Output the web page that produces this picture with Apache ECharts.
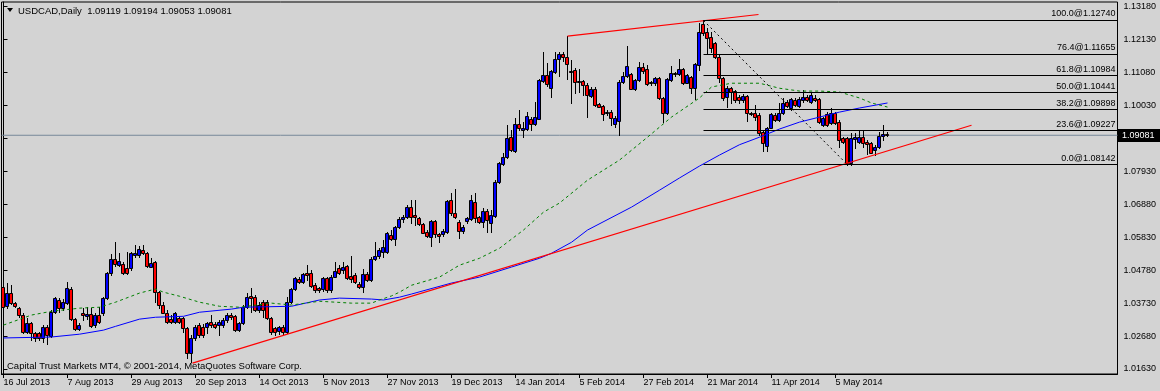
<!DOCTYPE html>
<html><head><meta charset="utf-8">
<script src="https://cdn.jsdelivr.net/npm/echarts@6/dist/echarts.min.js"></script>
<style>html,body{margin:0;padding:0;background:#d3d3d3;}#c{width:1160px;height:391px;}</style>
</head><body><div id="c"></div>
<script>
// ---------- DATA ----------
const openP = [1.0424,1.0364,1.0405,1.0373,1.0357,1.0335,1.0281,1.0309,1.0277,1.0277,
1.0261,1.0296,1.0268,1.0344,1.0383,1.0357,1.0373,1.0418,1.0322,1.0290,
1.0341,1.0332,1.0338,1.0303,1.0335,1.0341,1.0389,1.0469,1.0513,1.0494,
1.0497,1.0485,1.0485,1.0526,1.0526,1.0542,1.0532,1.0488,1.0504,1.0408,
1.0367,1.0341,1.0322,1.0313,1.0325,1.0325,1.0293,1.0214,1.0261,1.0303,
1.0296,1.0296,1.0313,1.0306,1.0303,1.0303,1.0319,1.0335,1.0332,1.0287,
1.0309,1.0360,1.0395,1.0392,1.0351,1.0376,1.0376,1.0325,1.0293,1.0284,
1.0296,1.0281,1.0376,1.0418,1.0449,1.0440,1.0469,1.0469,1.0430,1.0421,
1.0418,1.0453,1.0414,1.0456,1.0485,1.0478,1.0491,1.0459,1.0462,1.0433,
1.0424,1.0465,1.0446,1.0513,1.0523,1.0536,1.0536,1.0590,1.0577,1.0615,
1.0641,1.0647,1.0679,1.0654,1.0644,1.0625,1.0599,1.0583,1.0634,1.0593,
1.0593,1.0599,1.0701,1.0660,1.0631,1.0603,1.0634,1.0641,1.0695,1.0647,
1.0631,1.0666,1.0628,1.0650,1.0759,1.0816,1.0838,1.0902,1.0858,1.0944,
1.0925,1.0928,1.0960,1.0944,1.0960,1.1081,1.1100,1.1058,1.1109,1.1151,
1.1167,1.1157,1.1113,1.1116,1.1081,1.1081,1.1068,1.1033,1.1055,1.1007,
1.1001,1.0979,1.0982,1.0944,1.0955,1.1078,1.1097,1.1103,1.1055,1.1084,
1.1125,1.1119,1.1078,1.1075,1.1090,1.1027,1.0979,1.1084,1.1106,1.1103,
1.1119,1.1075,1.1094,1.1058,1.1132,1.1263,1.1237,1.1221,1.1202,1.1157,
1.1090,1.1030,1.1058,1.1049,1.1030,1.1020,1.1033,1.0979,1.0979,1.0972,
1.0918,1.0874,1.0931,1.0972,1.0956,1.0979,1.1014,1.0995,1.1020,1.1001,
1.1020,1.1030,1.1014,1.1027,1.1023,1.0941,1.0976,1.0947,1.0979,1.0950,
1.0899,1.0899,1.0819,1.0896,1.0886,1.0902,1.0886,1.0883,1.0861,1.0870,
1.0905,1.09119];
const highP = [1.0440,1.0437,1.0430,1.0376,1.0360,1.0341,1.0325,1.0313,1.0281,1.0281,
1.0303,1.0303,1.0351,1.0392,1.0389,1.0386,1.0440,1.0424,1.0325,1.0309,
1.0357,1.0360,1.0357,1.0341,1.0360,1.0392,1.0472,1.0529,1.0567,1.0532,
1.0504,1.0536,1.0536,1.0558,1.0555,1.0558,1.0536,1.0516,1.0507,1.0411,
1.0376,1.0351,1.0335,1.0344,1.0332,1.0329,1.0296,1.0271,1.0303,1.0309,
1.0306,1.0313,1.0335,1.0313,1.0319,1.0325,1.0341,1.0341,1.0335,1.0313,
1.0367,1.0405,1.0421,1.0399,1.0376,1.0383,1.0383,1.0329,1.0296,1.0300,
1.0303,1.0392,1.0421,1.0456,1.0456,1.0469,1.0494,1.0478,1.0437,1.0424,
1.0456,1.0456,1.0462,1.0504,1.0494,1.0504,1.0494,1.0523,1.0469,1.0440,
1.0481,1.0472,1.0520,1.0567,1.0548,1.0574,1.0599,1.0606,1.0618,1.0647,
1.0654,1.0685,1.0701,1.0701,1.0647,1.0628,1.0606,1.0638,1.0638,1.0596,
1.0609,1.0701,1.0724,1.0736,1.0638,1.0622,1.0647,1.0717,1.0724,1.0650,
1.0676,1.0673,1.0669,1.0765,1.0823,1.0851,1.0941,1.0925,1.0963,1.0988,
1.0950,1.0982,1.0966,1.1014,1.1087,1.1173,1.1138,1.1116,1.1173,1.1173,
1.1173,1.1224,1.1148,1.1122,1.1119,1.1084,1.1074,1.1062,1.1062,1.1011,
1.1004,1.0988,1.0988,1.0969,1.1084,1.1109,1.1192,1.1106,1.1087,1.1141,
1.1138,1.1132,1.1081,1.1094,1.1094,1.1030,1.1090,1.1129,1.1109,1.1151,
1.1122,1.1103,1.1097,1.1138,1.1266,1.1274,1.1250,1.1237,1.1205,1.1164,
1.1094,1.1065,1.1062,1.1052,1.1036,1.1039,1.1036,1.0982,1.1004,1.0979,
1.0925,1.0934,1.0979,1.0979,1.1011,1.1027,1.1020,1.1027,1.1027,1.1030,
1.1052,1.1036,1.1043,1.1036,1.1027,1.0966,1.0982,1.0995,1.0982,1.0956,
1.0902,1.0902,1.0915,1.0915,1.0921,1.0921,1.0893,1.0886,1.0877,1.0918,
1.0941,1.09194];
const lowP = [1.0357,1.0357,1.0370,1.0360,1.0329,1.0278,1.0277,1.0255,1.0252,1.0255,
1.0249,1.0242,1.0265,1.0341,1.0344,1.0351,1.0370,1.0319,1.0287,1.0287,
1.0319,1.0322,1.0296,1.0296,1.0309,1.0335,1.0386,1.0462,1.0491,1.0491,
1.0467,1.0467,1.0478,1.0520,1.0520,1.0529,1.0488,1.0488,1.0376,1.0357,
1.0341,1.0309,1.0309,1.0309,1.0309,1.0281,1.0198,1.0185,1.0255,1.0265,
1.0265,1.0277,1.0296,1.0293,1.0271,1.0296,1.0313,1.0322,1.0284,1.0284,
1.0306,1.0357,1.0344,1.0348,1.0344,1.0329,1.0322,1.0274,1.0271,1.0274,
1.0274,1.0277,1.0373,1.0414,1.0437,1.0437,1.0446,1.0424,1.0408,1.0408,
1.0411,1.0408,1.0408,1.0456,1.0465,1.0469,1.0449,1.0440,1.0437,1.0421,
1.0408,1.0443,1.0443,1.0510,1.0516,1.0520,1.0532,1.0574,1.0558,1.0612,
1.0631,1.0644,1.0628,1.0622,1.0622,1.0596,1.0583,1.0555,1.0583,1.0568,
1.0587,1.0596,1.0654,1.0644,1.0580,1.0596,1.0628,1.0638,1.0631,1.0628,
1.0615,1.0599,1.0599,1.0647,1.0756,1.0813,1.0835,1.0858,1.0855,1.0925,
1.0902,1.0925,1.0925,1.0941,1.0960,1.1078,1.1065,1.1030,1.1106,1.1097,
1.1144,1.1087,1.1011,1.1043,1.1046,1.1036,1.0966,1.1030,1.1001,1.0998,
1.0956,1.0972,1.0941,1.0934,1.0909,1.1075,1.1094,1.1055,1.1052,1.1081,
1.1106,1.1068,1.1068,1.1068,1.1023,1.0950,1.0976,1.1081,1.1097,1.1100,
1.1071,1.1075,1.1043,1.1023,1.1116,1.1228,1.1170,1.1173,1.1154,1.1078,
1.1020,1.0998,1.1011,1.1014,1.1011,1.1014,1.0953,1.0972,1.0956,1.0909,
1.0858,1.0858,1.0931,1.0953,1.0953,1.0976,1.0998,1.0988,1.1001,1.0998,
1.1014,1.1017,1.1011,1.1017,1.0947,1.0937,1.0937,1.0944,1.0944,1.0870,
1.0883,1.0814,1.0814,1.0867,1.0883,1.0870,1.0848,1.0851,1.0845,1.0867,
1.0893,1.09053];
const closeP = [1.0360,1.0405,1.0373,1.0364,1.0335,1.0281,1.0309,1.0277,1.0261,1.0261,
1.0296,1.0271,1.0344,1.0389,1.0357,1.0376,1.0421,1.0322,1.0290,1.0303,
1.0335,1.0338,1.0300,1.0335,1.0313,1.0389,1.0469,1.0513,1.0497,1.0507,
1.0469,1.0469,1.0532,1.0532,1.0545,1.0532,1.0491,1.0501,1.0408,1.0367,
1.0341,1.0313,1.0313,1.0341,1.0313,1.0293,1.0214,1.0261,1.0296,1.0271,
1.0271,1.0309,1.0303,1.0296,1.0313,1.0319,1.0335,1.0329,1.0287,1.0309,
1.0360,1.0392,1.0389,1.0351,1.0367,1.0351,1.0325,1.0281,1.0281,1.0296,
1.0281,1.0376,1.0418,1.0453,1.0440,1.0465,1.0462,1.0427,1.0414,1.0414,
1.0453,1.0414,1.0456,1.0475,1.0469,1.0488,1.0453,1.0449,1.0440,1.0424,
1.0465,1.0446,1.0513,1.0523,1.0542,1.0552,1.0596,1.0577,1.0615,1.0641,
1.0647,1.0679,1.0647,1.0647,1.0625,1.0596,1.0587,1.0634,1.0593,1.0587,
1.0603,1.0698,1.0660,1.0647,1.0603,1.0615,1.0644,1.0701,1.0644,1.0631,
1.0666,1.0638,1.0654,1.0759,1.0819,1.0838,1.0899,1.0861,1.0944,1.0931,
1.0931,1.0969,1.0944,1.0966,1.1084,1.1100,1.1071,1.1113,1.1151,1.1167,
1.1157,1.1135,1.1109,1.1078,1.1078,1.1068,1.1036,1.1055,1.1004,1.0998,
1.0976,1.0982,1.0963,1.0963,1.1078,1.1097,1.1129,1.1055,1.1084,1.1125,
1.1113,1.1071,1.1075,1.1090,1.1027,1.0979,1.1087,1.1106,1.1103,1.1119,
1.1075,1.1100,1.1058,1.1135,1.1237,1.1234,1.1218,1.1186,1.1157,1.1090,
1.1027,1.1058,1.1046,1.1020,1.1020,1.1033,1.0979,1.0976,1.0966,1.0915,
1.0883,1.0931,1.0976,1.0956,1.0979,1.1011,1.1001,1.1023,1.1004,1.1023,
1.1030,1.1020,1.1036,1.1020,1.0950,1.0963,1.0941,1.0979,1.0947,1.0893,
1.0886,1.0819,1.0899,1.0902,1.0902,1.0883,1.0880,1.0851,1.0870,1.0905,
1.0912,1.09081];

const xTickLabels = ["16 Jul 2013","7 Aug 2013","29 Aug 2013","20 Sep 2013","14 Oct 2013","5 Nov 2013","27 Nov 2013","19 Dec 2013","14 Jan 2014","5 Feb 2014","27 Feb 2014","21 Mar 2014","11 Apr 2014","5 May 2014"];
const yTicks = [1.01630,1.02680,1.03730,1.04780,1.05830,1.06880,1.07930,1.08980,1.10030,1.11080,1.12130,1.13180];

// moving averages (bar index, price)
const blueMaX = [0,12,19,25,28,34,38,45,49,57,60,72,79,84,92,95,99,102,112,119,127,134,137,142,146,157,164,169,174,179,184,189,194,199,204,209,214,221];
const blueMaY = [1.0262,1.0265,1.0274,1.0287,1.0299,1.0322,1.0328,1.0331,1.0344,1.0354,1.0360,1.0363,1.0383,1.0389,1.0386,1.0383,1.0392,1.0402,1.0437,1.0456,1.0488,1.0516,1.0532,1.0567,1.0606,1.0679,1.0733,1.0772,1.0810,1.0845,1.0878,1.0902,1.0928,1.0950,1.0966,1.0982,1.0995,1.1011];
const greenMaX = [0,7,12,19,24,28,34,38,40,44,49,54,59,67,72,79,87,92,94,97,99,102,109,114,119,124,130,135,139,146,154,161,167,174,177,182,189,194,199,204,209,214,217,221];
const greenMaY = [1.0303,1.0335,1.0347,1.0357,1.0360,1.0376,1.0405,1.0418,1.0408,1.0395,1.0376,1.0363,1.0360,1.0373,1.0367,1.0379,1.0373,1.0373,1.0383,1.0396,1.0408,1.0430,1.0456,1.0494,1.0516,1.0548,1.0606,1.0663,1.0692,1.0765,1.0829,1.0902,1.0966,1.1027,1.1062,1.1074,1.1074,1.1058,1.1049,1.1049,1.1046,1.1027,1.1011,1.0998];

// drawn objects (bar index, price)
const trendLowX = [47.25, 242];
const trendLowY = [1.0182, 1.0940];
const trendHighX = [141, 188.75];
const trendHighY = [1.1224, 1.1293];
const fibLevels = [100.0, 76.4, 61.8, 50.0, 38.2, 23.6, 0.0];
const fibPrices = [1.12740, 1.11655, 1.10984, 1.10441, 1.09898, 1.09227, 1.08142];
const fibAnchorX = [175, 211];
const fibAnchorY = [1.12740, 1.08142];
const lastPrice = 1.09081;
const headerText = "USDCAD,Daily  1.09119 1.09194 1.09053 1.09081";
const footerText = "Capital Trust Markets MT4, \u00a9 2001-2014, MetaQuotes Software Corp.";
const SLOTS = 279;

// ---------- CHART ----------
const Y_MIN = 1.01471, Y_MAX = 1.13329;
const FONT = "'Liberation Sans',Arial,sans-serif";
const FS = 9;
const cats = Array.from({length: SLOTS}, (_, i) => String(i));
const showTick = (idx) => idx % 16 === 0 && idx / 16 < xTickLabels.length;
const candleRows = openP.map((o, i) => [i, o, closeP[i], lowP[i], highP[i]]);
const pairs = (xs, ys) => xs.map((x, i) => [x, ys[i]]);

function renderCandle(params, api) {
  const i = api.value(0), o = api.value(1), c = api.value(2), l = api.value(3), h = api.value(4);
  const pO = api.coord([i, o]), pC = api.coord([i, c]), pL = api.coord([i, l]), pH = api.coord([i, h]);
  const px = Math.floor(pO[0]);
  const top = Math.round(Math.min(pO[1], pC[1])), bot = Math.round(Math.max(pO[1], pC[1]));
  const fill = c > o ? '#0000ff' : (c < o ? '#ff0000' : '#000');
  return {type: 'group', children: [
    {type: 'line', shape: {x1: px + 0.5, y1: Math.round(pH[1]), x2: px + 0.5, y2: Math.round(pL[1]) + 1}, style: {stroke: '#000', lineWidth: 1}},
    {type: 'rect', shape: {x: px - 1.5, y: top + 0.5, width: 3, height: Math.max(bot - top, 0)}, style: {fill: fill, stroke: '#000', lineWidth: 1}}
  ]};
}

const chart = echarts.init(document.getElementById('c'));
const lineBase = {type: 'line', xAxisIndex: 1, yAxisIndex: 0, symbol: 'none', silent: true, animation: false};

chart.setOption({
  animation: false,
  backgroundColor: '#d3d3d3',
  grid: {left: 1.5, right: 42.5, top: 2, bottom: 17, show: true, borderColor: '#000', borderWidth: 1, backgroundColor: 'transparent'},
  xAxis: [
    {type: 'category', data: cats, boundaryGap: true,
     axisLine: {show: true, lineStyle: {color: '#000'}},
     axisTick: {show: true, alignWithLabel: true, interval: (i) => showTick(i), length: 4, lineStyle: {color: '#000'}},
     axisLabel: {show: true, interval: (i) => showTick(i), formatter: (v, i) => xTickLabels[i / 16] || '', align: 'left', margin: 4, color: '#000', fontFamily: FONT, fontSize: FS},
     splitLine: {show: false}},
    {type: 'value', min: -0.5, max: SLOTS - 0.5, show: false, splitLine: {show: false}}
  ],
  yAxis: {type: 'value', position: 'right', min: Y_MIN, max: Y_MAX, scale: true,
    axisLine: {show: true, lineStyle: {color: '#000'}},
    axisTick: {show: true, length: 4, customValues: yTicks, lineStyle: {color: '#000'}},
    axisLabel: {customValues: yTicks, formatter: (v) => v.toFixed(5), margin: 6, color: '#000', fontFamily: FONT, fontSize: FS},
    splitLine: {show: false}},
  series: [
    {type: 'custom', xAxisIndex: 0, yAxisIndex: 0, data: candleRows, renderItem: renderCandle, clip: true, silent: true,
     encode: {x: 0, y: [1, 2, 3, 4]}, z: 2},
    Object.assign({}, lineBase, {data: [[-0.5, lastPrice], [SLOTS - 0.5, lastPrice]], lineStyle: {color: '#778899', width: 1}, z: 1}),
    Object.assign({}, lineBase, {data: pairs(blueMaX, blueMaY), lineStyle: {color: '#0000ff', width: 1}, z: 3}),
    Object.assign({}, lineBase, {data: pairs(greenMaX, greenMaY), lineStyle: {color: '#008000', width: 1, type: [3, 3]}, z: 3}),
    Object.assign({}, lineBase, {data: pairs(trendLowX, trendLowY), lineStyle: {color: '#ff0000', width: 1.2}, z: 4}),
    Object.assign({}, lineBase, {data: pairs(trendHighX, trendHighY), lineStyle: {color: '#ff0000', width: 1.2}, z: 4}),
    Object.assign({}, lineBase, {data: pairs(fibAnchorX, fibAnchorY), lineStyle: {color: '#000', width: 1, type: [2, 3]}, z: 4,
      markLine: {silent: true, symbol: ['none', 'none'], animation: false, emphasis: {disabled: true},
        lineStyle: {color: '#000', width: 1, type: 'solid'},
        label: {show: true, position: 'insideEndTop', distance: 2, color: '#000', fontFamily: FONT, fontSize: FS,
          formatter: (p) => fibLevels[p.dataIndex].toFixed(1) + '@' + fibPrices[p.dataIndex].toFixed(5)},
        data: fibPrices.map((p) => [{coord: [fibAnchorX[0], p]}, {coord: [SLOTS - 0.5, p]}])}})
  ]
});

const py = chart.convertToPixel({yAxisIndex: 0}, lastPrice);
chart.setOption({graphic: [
  {type: 'polygon', shape: {points: [[7, 8], [13, 8], [10, 12]]}, style: {fill: '#000'}, silent: true, z: 100},
  {type: 'text', x: 18, y: 11, style: {text: headerText, fill: '#000', font: '9.5px ' + FONT, textVerticalAlign: 'middle', verticalAlign: 'middle'}, silent: true, z: 100},
  {type: 'text', x: 7, y: 366, style: {text: footerText, fill: '#000', font: '9.5px ' + FONT, textVerticalAlign: 'middle', verticalAlign: 'middle'}, silent: true, z: 100},
  {type: 'rect', shape: {x: 1118, y: Math.round(py) - 6, width: 42, height: 13}, style: {fill: '#000'}, silent: true, z: 100},
  {type: 'text', x: 1122, y: Math.round(py) + 0.5, style: {text: lastPrice.toFixed(5), fill: '#fff', font: FS + 'px ' + FONT, textVerticalAlign: 'middle', verticalAlign: 'middle'}, silent: true, z: 101}
]});
</script>
</body></html>
